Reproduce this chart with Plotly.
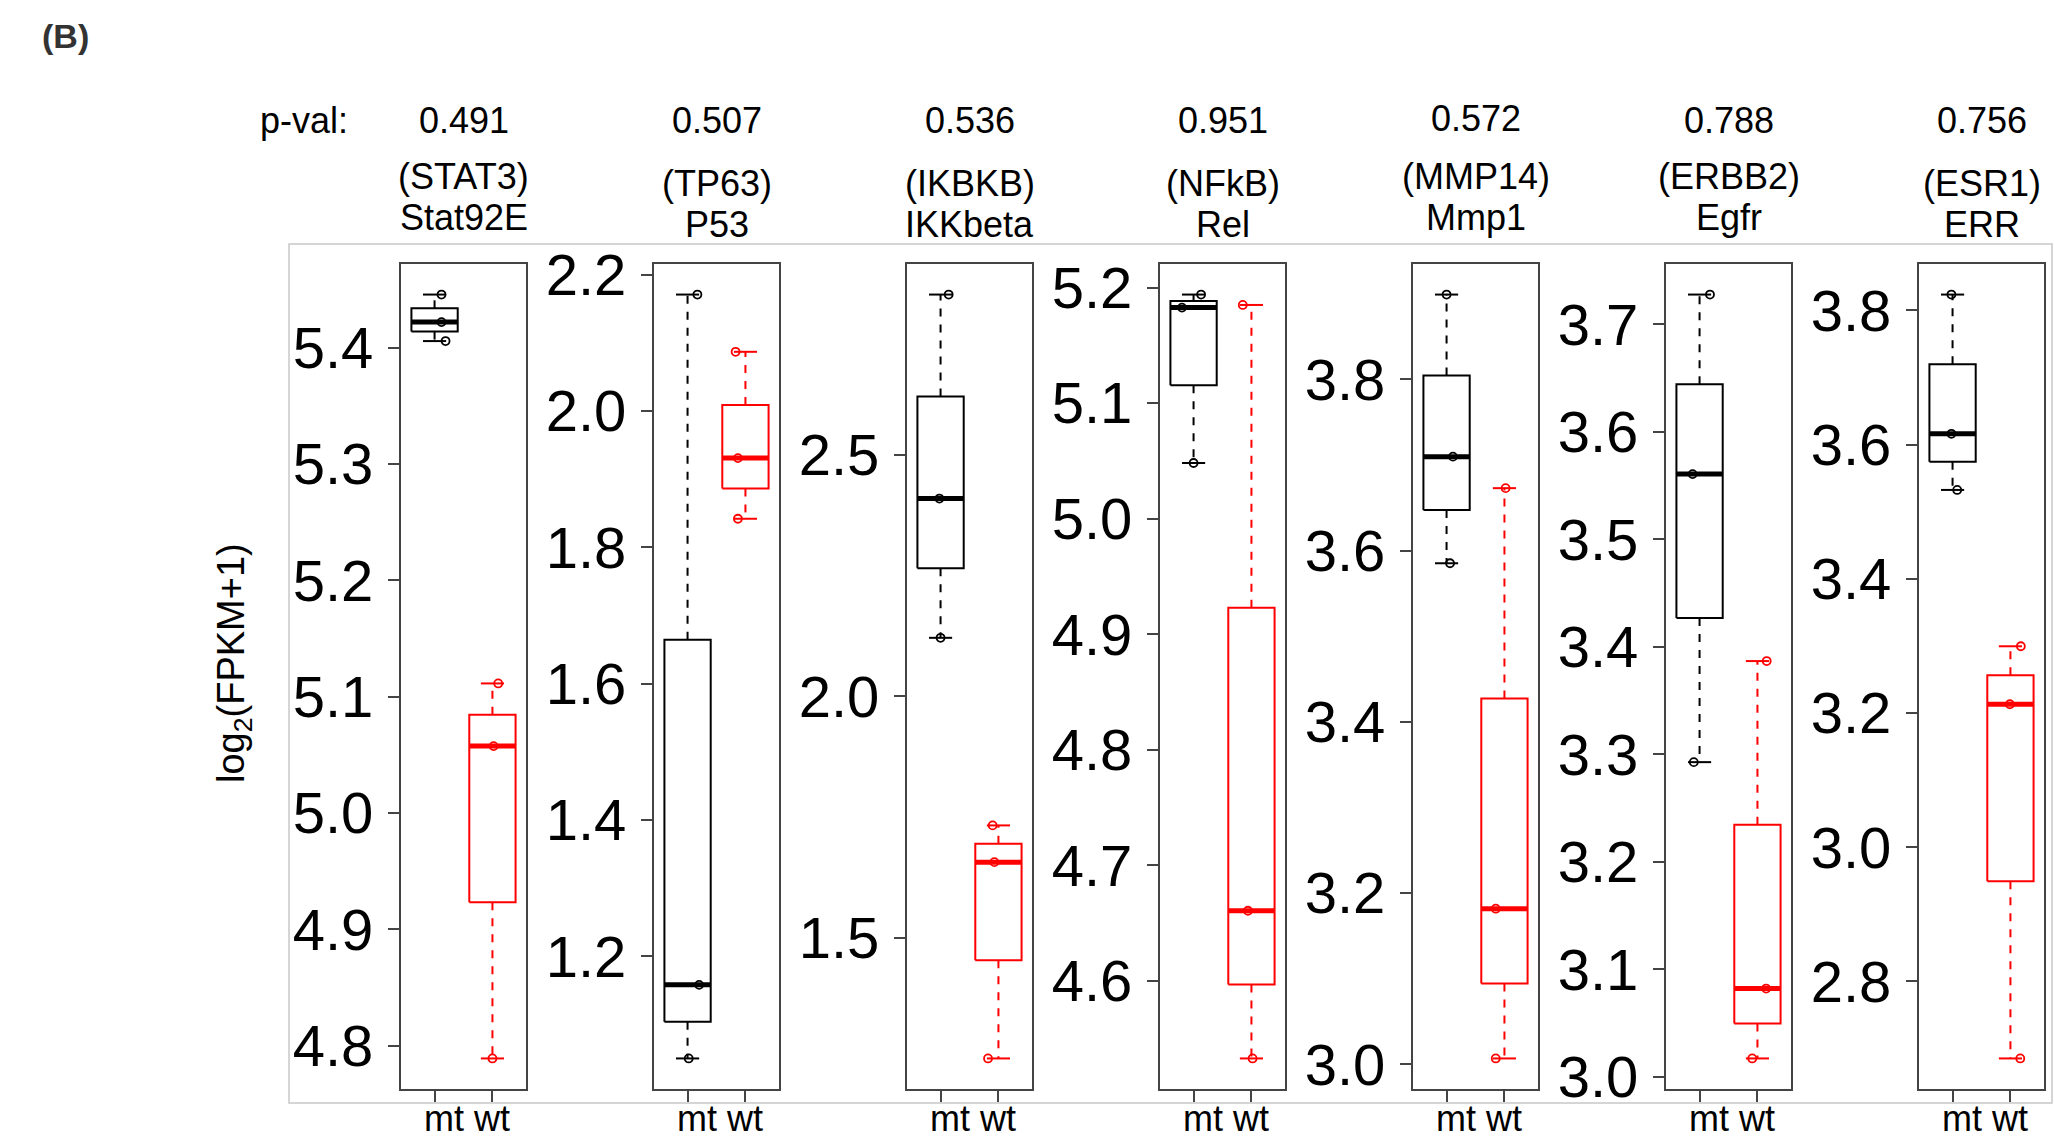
import plotly.graph_objects as go

# ---------------- data ----------------
human_genes = ["(STAT3)", "(TP63)", "(IKBKB)", "(NFkB)", "(MMP14)", "(ERBB2)", "(ESR1)"]
fly_genes = ["Stat92E", "P53", "IKKbeta", "Rel", "Mmp1", "Egfr", "ERR"]
p_values = ["0.491", "0.507", "0.536", "0.951", "0.572", "0.788", "0.756"]
group_labels = ["mt", "wt"]

mt_values = [
    [5.4057, 5.4220, 5.4457],
    [1.050, 1.158, 2.171],
    [2.121, 2.409, 2.831],
    [5.0482, 5.1827, 5.1940],
    [3.5852, 3.7097, 3.8990],
    [3.2928, 3.5607, 3.7277],
    [3.5325, 3.6162, 3.8237],
]
wt_values = [
    [4.7890, 5.0575, 5.1114],
    [1.842, 1.931, 2.087],
    [1.251, 1.657, 1.733],
    [4.5329, 4.6607, 5.1850],
    [3.0069, 3.1818, 3.6729],
    [3.0172, 3.0822, 3.3868],
    [2.6852, 3.2131, 3.2995],
]
y_dticks = [0.1, 0.2, 0.5, 0.1, 0.2, 0.1, 0.2]

# ---------------- layout / style constants ----------------
W, H = 2054, 1138
FONT = "Liberation Sans, Arial, Helvetica, sans-serif"
PANEL_LEFT0, PANEL_STEP, PANEL_W = 401, 253, 125
PANEL_TOP, PANEL_BOTTOM = 264, 1089
# horizontal jitter of the sample points (x units), order = sorted values
mt_jitter = [[0.19, 0.12, 0.12], [0.02, 0.20, 0.17], [0.0, -0.02, 0.14], [0.0, -0.20, 0.13],
             [0.06, 0.11, 0.0], [-0.10, -0.12, 0.18], [0.08, -0.02, -0.02]]
wt_jitter = [[0.0, 0.02, 0.10], [-0.13, -0.13, -0.17], [-0.18, -0.07, -0.10], [0.02, -0.06, -0.15],
             [-0.15, -0.15, 0.02], [-0.09, 0.15, 0.16], [0.17, -0.01, 0.18]]
title_shift = [0, 8, 8, 8, 0, 0, 8]
pval_shift = [0, 0, 0, 0, -3, 0, 0]
colors = ["black", "#ff0000"]
BOX_HALF = 0.4
STAPLE_HALF = 0.2
TXT = 36


def fivenum(v):
    s = sorted(v)
    n = len(s)
    n4 = int((n + 3) // 2) / 2.0
    d = [1, n4, (n + 1) / 2.0, n + 1 - n4, n]
    out = []
    for di in d:
        lo = int(di) - 1
        hi = int(-(-di // 1)) - 1
        out.append(0.5 * (s[lo] + s[hi]))
    return out


def py(px):
    return 1 - px / H


fig = go.Figure()
layout = dict(
    template="none",
    width=W, height=H, autosize=False,
    margin=dict(l=0, r=0, t=0, b=0, pad=0, autoexpand=False),
    paper_bgcolor="white", plot_bgcolor="white",
    showlegend=False,
    font=dict(family=FONT, color="black"),
)

annotations = []
shapes = []

for i in range(len(fly_genes)):
    xa = "x" if i == 0 else f"x{i+1}"
    ya = "y" if i == 0 else f"y{i+1}"
    xkey = "xaxis" if i == 0 else f"xaxis{i+1}"
    ykey = "yaxis" if i == 0 else f"yaxis{i+1}"
    left = PANEL_LEFT0 + PANEL_STEP * i
    groups = [mt_values[i], wt_values[i]]
    jit = [mt_jitter[i], wt_jitter[i]]
    allv = groups[0] + groups[1]
    lo, hi = min(allv), max(allv)
    r = hi - lo
    n = len(groups)

    for g, vals in enumerate(groups):
        c = g + 1
        col = colors[g]
        mn, q1, med, q3, mx = fivenum(vals)
        # box
        fig.add_trace(go.Scatter(
            x=[c - BOX_HALF, c + BOX_HALF, c + BOX_HALF, c - BOX_HALF, c - BOX_HALF],
            y=[q1, q1, q3, q3, q1], mode="lines",
            line=dict(color=col, width=2), xaxis=xa, yaxis=ya, hoverinfo="skip"))
        # whiskers (dashed)
        fig.add_trace(go.Scatter(
            x=[c, c, None, c, c], y=[q3, mx, None, q1, mn], mode="lines",
            line=dict(color=col, width=2, dash="8px,8px"), xaxis=xa, yaxis=ya, hoverinfo="skip"))
        # staples
        fig.add_trace(go.Scatter(
            x=[c - STAPLE_HALF, c + STAPLE_HALF, None, c - STAPLE_HALF, c + STAPLE_HALF],
            y=[mx, mx, None, mn, mn], mode="lines",
            line=dict(color=col, width=2), xaxis=xa, yaxis=ya, hoverinfo="skip"))
        # median
        fig.add_trace(go.Scatter(
            x=[c - BOX_HALF, c + BOX_HALF], y=[med, med], mode="lines",
            line=dict(color=col, width=5), xaxis=xa, yaxis=ya, hoverinfo="skip"))
        # sample points
        sv = sorted(vals)
        fig.add_trace(go.Scatter(
            x=[c + j for j in jit[g]], y=sv, mode="markers",
            marker=dict(symbol="circle-open", size=8, color=col, line=dict(width=1.8, color=col)),
            xaxis=xa, yaxis=ya, hoverinfo="skip"))

    layout[xkey] = dict(
        domain=[left / W, (left + PANEL_W) / W], anchor=ya, automargin=False,
        range=[0.5 - 0.04 * n, n + 0.5 + 0.04 * n],
        tickmode="array", tickvals=[1, 2], showticklabels=False,
        ticks="outside", ticklen=11, tickwidth=2, tickcolor="#444",
        showline=True, linecolor="#444", linewidth=2, mirror=True,
        showgrid=False, zeroline=False, fixedrange=True)
    layout[ykey] = dict(
        domain=[py(PANEL_BOTTOM), py(PANEL_TOP)], anchor=xa, automargin=False,
        range=[lo - 0.04 * r, hi + 0.04 * r],
        dtick=y_dticks[i], tick0=0, tickformat=".1f",
        ticks="outside", ticklen=11, tickwidth=2, tickcolor="#444",
        ticklabelstandoff=3,
        tickfont=dict(family=FONT, size=58, color="black"),
        showline=True, linecolor="#444", linewidth=2, mirror=True,
        showgrid=False, zeroline=False, fixedrange=True)

    cx = (left + PANEL_W / 2) / W
    annotations.append(dict(text=p_values[i], x=cx, y=py(121 + pval_shift[i]), xref="paper", yref="paper",
                            showarrow=False, xanchor="center", yanchor="middle",
                            font=dict(family=FONT, size=TXT, color="black")))
    annotations.append(dict(text=human_genes[i], x=cx, y=py(176 + title_shift[i]), xref="paper", yref="paper",
                            showarrow=False, xanchor="center", yanchor="middle",
                            font=dict(family=FONT, size=TXT, color="black")))
    annotations.append(dict(text=fly_genes[i], x=cx, y=py(217 + title_shift[i]), xref="paper", yref="paper",
                            showarrow=False, xanchor="center", yanchor="middle",
                            font=dict(family=FONT, size=TXT, color="black")))
    annotations.append(dict(text=" ".join(group_labels), x=1.5, y=0, xref=xa, yref="paper",
                            xshift=3, yshift=-3, showarrow=False, xanchor="center", yanchor="bottom",
                            font=dict(family=FONT, size=TXT, color="black")))

annotations.append(dict(text="p-val:", x=304 / W, y=py(121), xref="paper", yref="paper",
                        showarrow=False, xanchor="center", yanchor="middle",
                        font=dict(family=FONT, size=TXT, color="black")))
annotations.append(dict(text="<b>(B)</b>", x=65 / W, y=py(36), xref="paper", yref="paper",
                        showarrow=False, xanchor="center", yanchor="middle",
                        font=dict(family=FONT, size=34, color="#333333")))
annotations.append(dict(text="log<sub>2</sub>(FPKM+1)", x=234 / W, y=py(663), xref="paper", yref="paper",
                        showarrow=False, xanchor="center", yanchor="middle", textangle=-90,
                        font=dict(family=FONT, size=38, color="black")))

shapes.append(dict(type="rect", xref="paper", yref="paper",
                   x0=289 / W, x1=2052 / W, y0=py(1103), y1=py(244),
                   line=dict(color="#c8c8c8", width=1.5), fillcolor="rgba(0,0,0,0)", layer="below"))

layout["annotations"] = annotations
layout["shapes"] = shapes
fig.update_layout(**layout)
fig.write_html("out.html", config={"displayModeBar": False},
               post_script="document.body.style.margin='0px';")
